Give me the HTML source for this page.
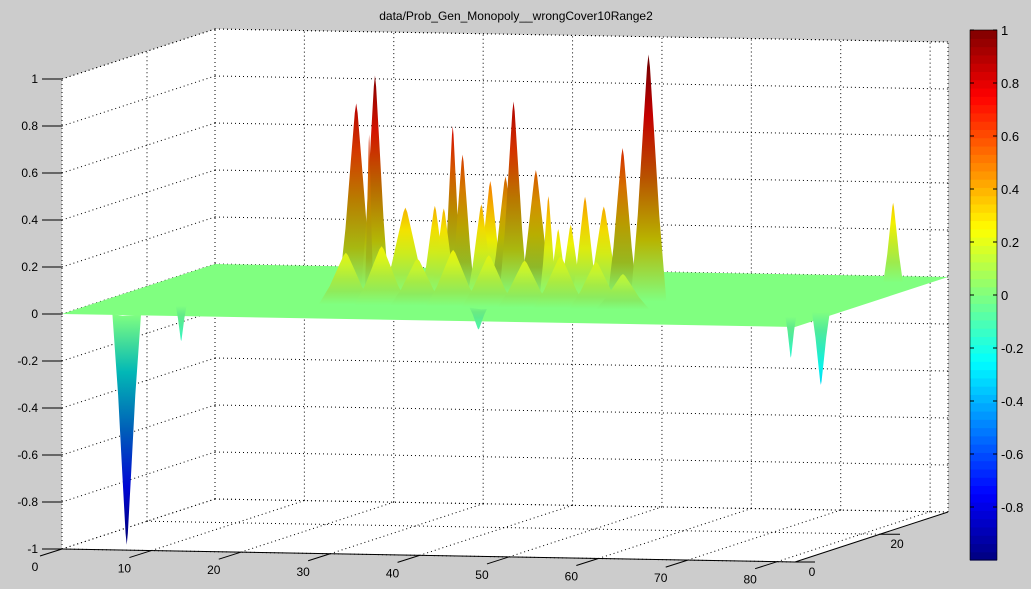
<!DOCTYPE html>
<html><head><meta charset="utf-8"><style>
html,body{margin:0;padding:0;background:#cccccc;}
svg{display:block;font-family:"Liberation Sans",sans-serif;}
</style></head><body>
<svg id="chart" width="1031" height="589" viewBox="0 0 1031 589" xmlns="http://www.w3.org/2000/svg">
<text x="516" y="20" font-size="12" text-anchor="middle">data/Prob_Gen_Monopoly__wrongCover10Range2</text>
<g id="grid"></g><g id="surf"></g><g id="axes"></g><g id="cbar"></g>
</svg>
<script>
const xTicks=[0,10,20,30,40,50,60,70,80];
const yTicks=[0,20];
const zTicks=[-1,-0.8,-0.6,-0.4,-0.2,0,0.2,0.4,0.6,0.8,1];
const cbTicks=[-0.8,-0.6,-0.4,-0.2,0,0.2,0.4,0.6,0.8,1];
// peaks: position x, depth y, height z, half-width (data units)
const peakX=[25.4,27.5,27.7,36.2,37.3,40.4,42.1,43.0,45.5,46.9,30.9,34.2,35.2,39.4,49.4,51.0,53.1,55.2,58.1,48.0,78.0,7.0,10.0,79.9,78.2,41.6,27,31,35,39,43,47,51,55,58];
const peakY=[15.8,15.8,14,15.8,15.8,15.8,15.8,15.8,15.8,15.8,15.8,15.8,15.8,15.8,15.8,15.8,15.8,15.8,15.8,15.8,31.5,0.5,7,10.5,7,10.5,10,10,10,10,10,10,10,10,10];
const peakZ=[0.82,0.94,0.7,0.73,0.61,0.5,0.52,0.84,0.55,0.44,0.38,0.39,0.38,0.40,0.32,0.44,0.4,0.65,1.05,0.3,0.34,-0.98,-0.15,-0.31,-0.175,-0.1,0.22,0.25,0.2,0.24,0.22,0.2,0.22,0.2,0.15];
const peakW=[2.0,1.6,0.5,1.1,1.4,1.6,1.8,1.6,1.9,1.0,2.6,1.6,1.5,1.6,1.4,1.5,1.9,1.7,2.0,1.2,1.1,1.6,0.6,1.0,0.6,1.1,3.0,3.0,3.0,3.0,3.0,3.0,3.0,3.0,3.0];
const XMAX=82,YMAX=36;
const NS='http://www.w3.org/2000/svg';
function P(x,y,z){const xf=x/XMAX,yf=y/YMAX;return[62+733*xf+153*yf,549+13*xf-50*yf-235*(z+1)];}
function jet(v){let t=(v+1)/2;t=Math.max(0,Math.min(1,t));
 const f=(a)=>Math.max(0,Math.min(1,1.5-Math.abs(4*t-a)));
 return[255*f(3),255*f(2),255*f(1)];}
function rgb(c,k){return`rgb(${Math.round(c[0]*k)},${Math.round(c[1]*k)},${Math.round(c[2]*k)})`;}
function mk(tag,attrs,parent){const e=document.createElementNS(NS,tag);for(const k in attrs)e.setAttribute(k,attrs[k]);parent.appendChild(e);return e;}
const grid=document.getElementById('grid'),surf=document.getElementById('surf'),axes=document.getElementById('axes'),cbar=document.getElementById('cbar');
function pts(a){return a.map(p=>p.join(',')).join(' ');}
let w=mk('polygon',{points:pts([P(0,0,-1),P(0,YMAX,-1),P(XMAX,YMAX,-1),P(XMAX,YMAX,1),P(0,YMAX,1),P(0,0,1)]),fill:'#fff'},grid);


let wb=mk('polygon',{points:pts([P(0,0,-1),P(XMAX,0,-1),P(XMAX,YMAX,-1),P(0,YMAX,-1)]),fill:'#fff'},grid);


const dot={stroke:'#000','stroke-width':1,'stroke-dasharray':'1,3',fill:'none'};
function dl(a,b){return mk('line',Object.assign({x1:a[0],y1:a[1],x2:b[0],y2:b[1]},dot),grid);}
xTicks.forEach(t=>{dl(P(t,YMAX,-1),P(t,YMAX,1));dl(P(t,0,-1),P(t,YMAX,-1));});
yTicks.forEach(t=>{dl(P(0,t,-1),P(0,t,1));dl(P(0,t,-1),P(XMAX,t,-1));});
zTicks.forEach(t=>{dl(P(0,0,t),P(0,YMAX,t));dl(P(0,YMAX,t),P(XMAX,YMAX,t));});
dl(P(0,YMAX,-1),P(XMAX,YMAX,-1));dl(P(XMAX,YMAX,-1),P(XMAX,YMAX,1));dl(P(0,0,-1),P(0,0,1));dl(P(0,0,1),P(0,YMAX,1));dl(P(0,YMAX,1),P(XMAX,YMAX,1));dl(P(0,YMAX,-1),P(0,YMAX,1));
let pl=mk('polygon',{points:pts([P(0,0,0),P(0,YMAX,0),P(XMAX,YMAX,0),P(XMAX,0,0)]),fill:rgb(jet(0),1)},surf);


const defs=mk('defs',{},surf);
const order=peakX.map((_,i)=>i).sort((a,b)=>peakY[b]-peakY[a]);
order.forEach(i=>{
 const x=peakX[i],y=peakY[i],z=peakZ[i],hw=peakW[i];
 const s=[[-1,0],[-0.6,0.35],[-0.3,0.7],[-0.08,0.95],[0,1],[0.08,0.95],[0.3,0.7],[0.6,0.35],[1,0]];
 const pp=s.map(q=>P(x+hw*q[0],y,z*q[1]));
 const f=P(x,y-hw*0.6,0);pp.push(f);
 const base=P(x,y,0),ap=P(x,y,z);
 const g=mk('linearGradient',{id:'g'+i,gradientUnits:'userSpaceOnUse',x1:0,y1:base[1],x2:0,y2:ap[1]},defs);
 const dark=Math.abs(z)>0.5?0.72:0.92;
 [0,0.25,0.5,0.75,1].forEach(st=>{const k=st===0?1:(st>=0.75?1-(1-dark)*0.6:dark);mk('stop',{offset:st,'stop-color':rgb(jet(z*st),k)},g);});
 const poly=mk('polygon',{points:pts(pp),fill:'url(#g'+i+')'},surf);
 
 
});
const sol={stroke:'#000','stroke-width':1};
function sl(a,b){return mk('line',Object.assign({x1:a[0],y1:a[1],x2:b[0],y2:b[1]},sol),axes);}
sl(P(0,0,-1),P(XMAX,0,-1));sl(P(XMAX,0,-1),P(XMAX,YMAX,-1));
xTicks.forEach(t=>{const a=P(t,0,-1);sl(a,[a[0]-22,a[1]+7]);
 const tx=mk('text',{x:a[0]-27,y:a[1]+22,'font-size':12,'text-anchor':'middle'},axes);tx.textContent=t;
 
 });
yTicks.forEach(t=>{const a=P(XMAX,t,-1);sl(a,[a[0]+20,a[1]]);
 const tx=mk('text',{x:a[0]+17,y:a[1]+14,'font-size':12,'text-anchor':'middle'},axes);tx.textContent=t;
 
 });
zTicks.forEach(t=>{const a=P(0,0,t);sl(a,[a[0]-20,a[1]]);
 const tx=mk('text',{x:a[0]-24,y:a[1]+4,'font-size':12,'text-anchor':'end'},axes);tx.textContent=String(t);
 
 });
const CX=970,CW=27,CT=30,CB=560;
for(let k=0;k<64;k++){const v0=-1+2*k/64;const y1=CB-(k+1)*(CB-CT)/64;
 const r=mk('rect',{x:CX,y:y1,width:CW,height:(CB-CT)/64+0.6,fill:rgb(jet(v0+1/64),1)},cbar);
 
 }
mk('rect',{x:CX,y:CT,width:CW,height:CB-CT,fill:'none',stroke:'#000','stroke-width':0.6},cbar);
cbTicks.forEach(t=>{const y=CB-(t+1)/2*(CB-CT);
 mk('line',{x1:CX,y1:y,x2:CX+4,y2:y,stroke:'#000'},cbar);mk('line',{x1:CX+CW-4,y1:y,x2:CX+CW,y2:y,stroke:'#000'},cbar);
 const tx=mk('text',{x:CX+CW+4,y:y+5,'font-size':13},cbar);tx.textContent=t;
 
 });
</script>
</body></html>
